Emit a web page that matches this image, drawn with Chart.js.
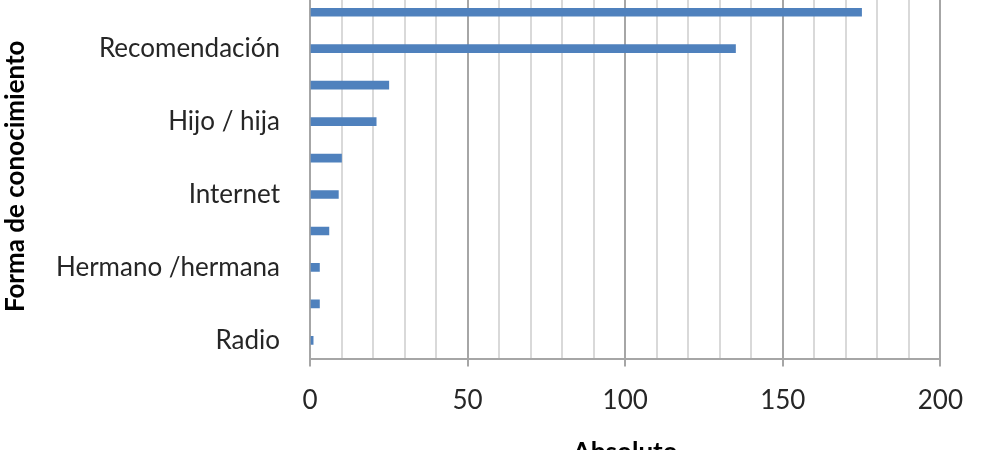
<!DOCTYPE html>
<html lang="es">
<head>
  <meta charset="UTF-8">
  <title>Forma de conocimiento</title>
  <style>
    html, body { margin: 0; padding: 0; overflow: hidden; background: #fff; }
    #wrap { position: absolute; left: 0; top: -6px; width: 981px; height: 480px; }
  </style>
</head>
<body>
  <div id="wrap"><canvas id="chart"></canvas></div>

  <script src="https://cdn.jsdelivr.net/npm/chart.js"></script>
  <script>
    // top to bottom, as drawn; unlabelled rows in the picture are left blank
    const categories = ['', 'Recomendación', '', 'Hijo / hija', '', 'Internet', '', 'Hermano /hermana', '', 'Radio'];
    const values = [175, 135, 25, 21, 10, 9, 6, 3, 3, 1];
    const xTicks = [0, 50, 100, 150, 200];

    const font = 'Lato, "Open Sans", sans-serif';

    new Chart(document.getElementById('chart'), {
      type: 'bar',
      data: {
        labels: categories,
        datasets: [{
          data: values,
          backgroundColor: '#4f81bd',
          barThickness: 8
        }]
      },
      options: {
        indexAxis: 'y',
        responsive: true,
        maintainAspectRatio: false,
        animation: false,
        layout: { padding: { left: 0, right: 37, top: 0, bottom: 0 } },
        plugins: { legend: { display: false }, tooltip: { enabled: false } },
        scales: {
          x: {
            min: 0,
            max: 200,
            ticks: {
              stepSize: 10,
              autoSkip: false,
              maxRotation: 0,
              color: '#262626',
              font: { family: font, size: 26 },
              padding: 18,
              callback: v => xTicks.includes(v) ? v : ''
            },
            grid: {
              color: c => (c.tick && c.tick.value % 50 === 0) ? '#a6a6a6' : '#d9d9d9',
              lineWidth: 2,
              tickLength: 8,
              tickColor: c => (c.tick && c.tick.value % 50 === 0) ? '#a6a6a6' : 'rgba(0,0,0,0)'
            },
            border: { color: '#a6a6a6', width: 2 },
            title: {
              display: true,
              text: 'Absoluto',
              color: '#000',
              font: { family: font, size: 26, weight: 'bold' },
              padding: { top: 3, bottom: 6 }
            }
          },
          y: {
            afterFit: s => {
              s.width = 310;
              s.paddingTop = 0;
              s.paddingBottom = 0;
            },
            ticks: {
              color: '#262626',
              font: { family: font, size: 26 },
              padding: 30,
              autoSkip: false
            },
            grid: { display: false, drawTicks: false },
            border: { color: '#a6a6a6', width: 2 },
            title: {
              display: true,
              text: 'Forma de conocimiento',
              color: '#000',
              font: { family: font, size: 26, weight: 'bold' },
              padding: { top: 0, bottom: 0 }
            }
          }
        }
      }
    });
  </script>
</body>
</html>
